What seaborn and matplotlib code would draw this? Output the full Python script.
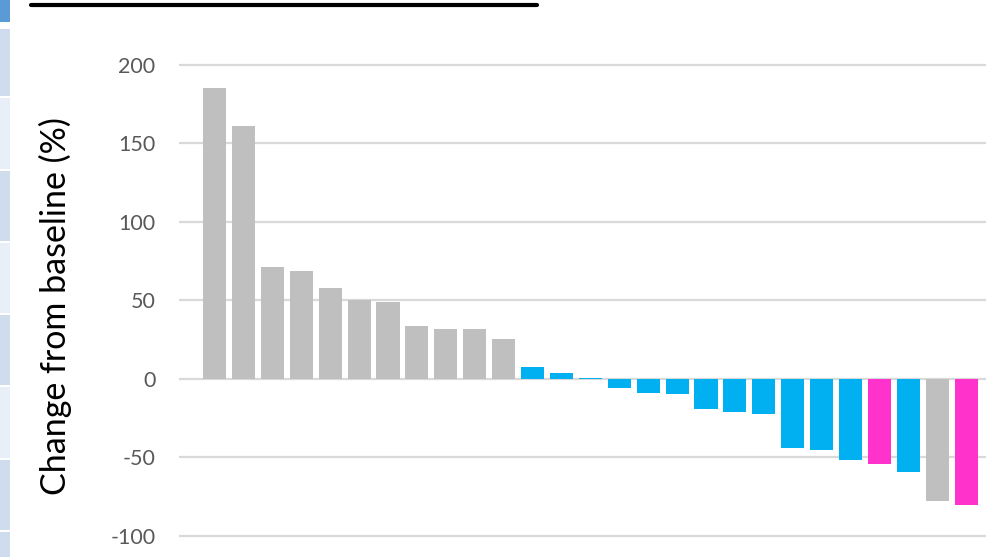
import matplotlib
matplotlib.use("Agg")
import matplotlib.pyplot as plt
from matplotlib.patches import Rectangle
from matplotlib.lines import Line2D
import seaborn as sns
import pandas as pd

# data
patients = [f"P{i}" for i in range(1, 28)]
change = [185.5, 161, 71.5, 68.5, 58, 50, 49, 34, 32, 32, 25.5,
          7.6, 3.8, 0.8, -6, -9, -9.7, -19.3, -21.2, -22.5,
          -44, -45.4, -51.8, -54.4, -59, -78, -80.5]
group = ["gray"] * 11 + ["blue"] * 12 + ["pink", "blue", "gray", "pink"]
group_colors = {"gray": "#bfbfbf", "blue": "#00b0f0", "pink": "#ff33cc"}
yticks = [-100, -50, 0, 50, 100, 150, 200]

df = pd.DataFrame({"patient": patients, "change": change, "group": group})

sns.set_style("white")
plt.rcParams["font.family"] = ["Lato", "DejaVu Sans"]

fig = plt.figure(figsize=(9.86, 5.57), dpi=100)
# plot area runs past the right edge (chart is cropped from a slide)
ax = fig.add_axes([179 / 986, 0, (1050 - 179) / 986, 1])

sns.barplot(data=df, x="patient", y="change", hue="patient",
            palette=[group_colors[g] for g in group], legend=False,
            width=0.8, saturation=1, linewidth=0, edgecolor="none",
            ax=ax, zorder=3)

ax.set_xlim(-1.23, 28.9)
ax.set_ylim(-113.4, 241.4)
ax.set_yticks(yticks)
ax.set_yticklabels([str(t) for t in yticks], fontsize=15.5, color="#595959")
ax.tick_params(axis="y", length=0, pad=17)
ax.set_xticks([])
ax.set_xlabel("")
ax.set_ylabel("")
ax.hlines(yticks, 0, 1, transform=ax.get_yaxis_transform(),
          colors="#d9d9d9", lw=1.6, zorder=1)
for s in ax.spines.values():
    s.set_visible(False)

fig.text(55 / 986, 1 - 306 / 557, "Change from baseline (%)", rotation=90,
         ha="center", va="center", fontsize=24.5, color="black")

# bits of the slide around the chart: title underline and side strip
fig.add_artist(Line2D([31 / 986, 537 / 986], [1 - 5 / 557, 1 - 5 / 557],
                      color="black", lw=3))
strip = [(0, 22, "#5b9bd5")]
ys = [29, 98, 171, 243, 315, 387, 460, 532]
for i in range(len(ys) - 1):
    c = "#cfdcee" if i % 2 == 0 else "#e9eff7"
    strip.append((ys[i], ys[i + 1] - 2, c))
strip.append((532, 557, "#cfdcee"))
for y0, y1, c in strip:
    fig.add_artist(Rectangle((0, 1 - y1 / 557), 10 / 986, (y1 - y0) / 557,
                             transform=fig.transFigure, color=c, lw=0))

fig.savefig("out.png", dpi=100)
